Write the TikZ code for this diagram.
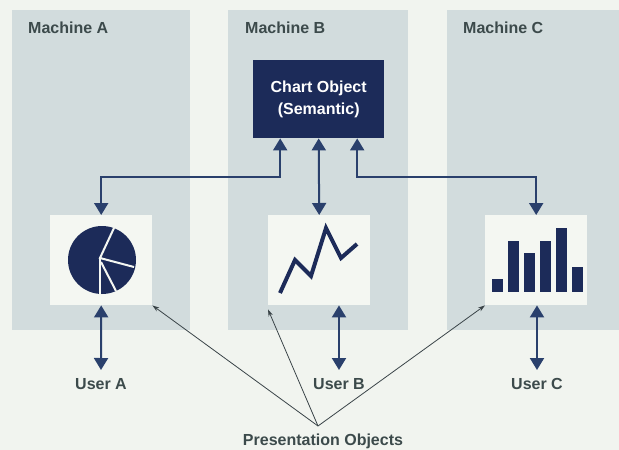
\documentclass[tikz,border=0pt]{standalone}
\usepackage{fontspec}
\setmainfont{Liberation Sans}
\usetikzlibrary{arrows.meta}
\definecolor{bgc}{HTML}{F1F4EF}
\definecolor{panelc}{HTML}{D2DCDD}
\definecolor{boxc}{HTML}{F4F7F2}
\definecolor{navy}{HTML}{1C2B59}
\definecolor{linec}{HTML}{2A406C}
\definecolor{txtc}{HTML}{3C4A4B}
\definecolor{thinc}{HTML}{3A4448}
\tikzset{
  panel/.style={fill=panelc, draw=none, anchor=north west, minimum height=320pt, inner sep=0pt},
  presbox/.style={fill=boxc, draw=none, anchor=north west, minimum width=102pt, minimum height=90pt, inner sep=0pt},
  label/.style={font=\bfseries\fontsize{16}{18}\selectfont, text=txtc, inner sep=0pt},
  userlbl/.style={label, anchor=north, inner xsep=0pt, inner ysep=8pt},
  chartbox/.style={fill=navy, draw=none, anchor=north west, minimum width=131pt, minimum height=78pt, text=white, align=center, font=\bfseries\fontsize{16}{22}\selectfont},
  conn/.style={draw=linec, line width=2pt, -{Triangle[width=14pt,length=12pt]}},
  biconn/.style={draw=linec, line width=2pt, {Triangle[width=14pt,length=12pt]}-{Triangle[width=14pt,length=12pt]}},
  thinarrow/.style={draw=thinc, line width=0.8pt, -{Stealth[length=7pt,width=4.5pt]}},
  pieline/.style={draw=boxc, line width=2pt},
}
\begin{document}
\begin{tikzpicture}[x=1pt,y=-1pt]
\fill[bgc] (0,0) rectangle (619,450);
\useasboundingbox (0,0) rectangle (619,450);
% machine panels
\node[panel, minimum width=178pt] (panA) at (12,10) {};
\node[panel, minimum width=180pt] (panB) at (228,10) {};
\node[panel, minimum width=172pt] (panC) at (447,10) {};
\node[label, anchor=base west] (machA) at (28,33) {Machine A};
\node[label, anchor=base west] (machB) at (245,33) {Machine B};
\node[label, anchor=base west] (machC) at (463,33) {Machine C};
% chart object
\node[chartbox] (chart) at (253,60) {Chart Object\\(Semantic)};
% presentation boxes
\node[presbox] (presA) at (50,215) {};
\node[presbox] (presB) at (268,215) {};
\node[presbox] (presC) at (485,215) {};
% pie chart
\fill[navy] (102,260) circle[radius=34];
\draw[pieline] (114,228) -- (100,258) -- (134,267);
\draw[pieline] (100,258) -- (100,294);
\draw[pieline] (101,262) -- (116,291);
% line chart
\draw[navy, line width=4pt] (280,293) -- (295,260) -- (311,276) -- (326,228) -- (341,258) -- (357,244);
% bar chart
\foreach \i/\t in {0/279,1/241,2/253,3/241,4/228,5/267}{
  \fill[navy] (491.5+16*\i,\t) rectangle (502.5+16*\i,292);
}
% users
\node[userlbl] (userA) at (101,370) {User A};
\node[userlbl] (userB) at (339,370) {User B};
\node[userlbl] (userC) at (537,370) {User C};
% connectors to the chart object
\draw[biconn] ([xshift=-38.5pt]chart.south) -- ++(0,39) -| (presA.north);
\draw[biconn] (chart.south) -- (presB.north);
\draw[biconn] ([xshift=38.5pt]chart.south) -- ++(0,39) -| (presC.north);
% connectors to the users
\draw[biconn] (presA.south) -- (userA.north);
\draw[biconn] (presB.south -| userB.north) -- (userB.north);
\draw[biconn] (presC.south -| userC.north) -- (userC.north);
% presentation objects label
\node[label, anchor=base] (plabel) at (323,445) {Presentation Objects};
\coordinate (apex) at (318,426);
\draw[thinarrow] (apex) -- (presA.south east);
\draw[thinarrow] (apex) -- ([yshift=-4pt]presB.south west);
\draw[thinarrow] (apex) -- (presC.south west);
\end{tikzpicture}
\end{document}
